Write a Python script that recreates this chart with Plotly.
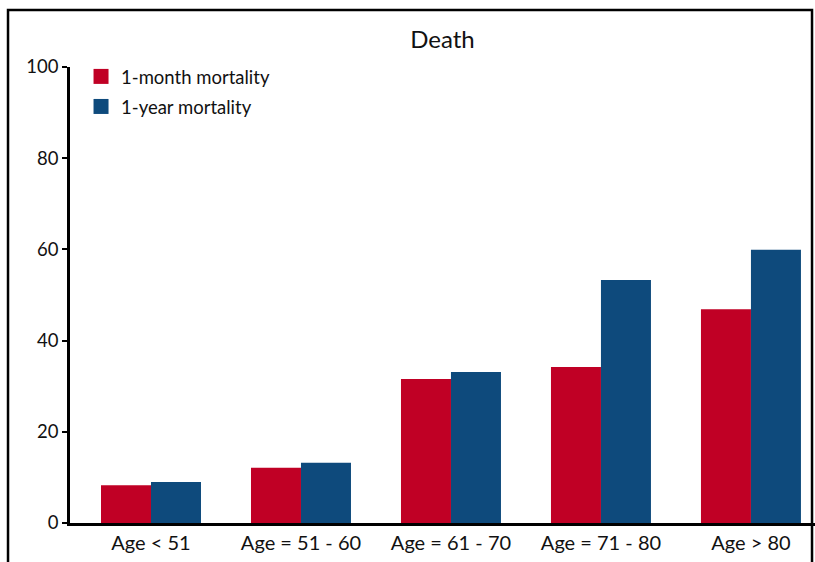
import plotly.graph_objects as go

categories = ["Age < 51", "Age = 51 - 60", "Age = 61 - 70", "Age = 71 - 80", "Age > 80"]
one_month = [8.3, 12.1, 31.6, 34.2, 46.9]
one_year = [9.0, 13.2, 33.1, 53.3, 59.9]
y_ticks = [0, 20, 40, 60, 80, 100]
series_names = ["1-month mortality", "1-year mortality"]

RED = "#C00025"
BLUE = "#0E4A7C"
FONT = "Lato, 'Open Sans', sans-serif"

fig = go.Figure()
for vals, name, color in [(one_month, series_names[0], RED), (one_year, series_names[1], BLUE)]:
    fig.add_trace(go.Bar(x=categories, y=vals, name=name, showlegend=False,
                         marker=dict(color=color, line=dict(width=0))))

# legend entries with larger square swatches
for i, (name, color) in enumerate([(series_names[0], RED), (series_names[1], BLUE)]):
    fig.add_trace(go.Scatter(x=[None], y=[None], mode="markers", name=name,
                             legendgroup=f"g{i}",
                             marker=dict(symbol="square", size=15, color=color,
                                         line=dict(width=0))))

fig.update_layout(
    width=815, height=562,
    margin=dict(l=70, r=0, t=67, b=39),
    paper_bgcolor="white", plot_bgcolor="white",
    barmode="group", bargap=1/3, bargroupgap=0,
    font=dict(family=FONT, color="#111111", size=19),
    title=dict(text="Death", x=0.5, xanchor="center", xref="paper",
               y=1 - 40 / 562, yref="container", yanchor="middle",
               font=dict(size=24, family=FONT, color="#111111")),
    showlegend=True,
    legend=dict(x=0.0148, y=1.02, xanchor="left", yanchor="top",
                font=dict(size=18.5, family=FONT, color="#111111"),
                bgcolor="rgba(0,0,0,0)", traceorder="grouped",
                itemwidth=30, tracegroupgap=3),
    xaxis=dict(range=[-0.54, 4.427], showline=True, linecolor="black", linewidth=3,
               ticks="", showgrid=False, zeroline=False,
               tickfont=dict(size=20, family=FONT, color="#111111")),
    yaxis=dict(range=[0, 100], tickvals=y_ticks, showline=True, linecolor="black",
               linewidth=2.5, ticks="outside", ticklen=5, tickwidth=1.5, tickcolor="black",
               showgrid=False, zeroline=False,
               tickfont=dict(size=18.5, family=FONT, color="#111111")),
    shapes=[dict(type="rect", xref="paper", yref="paper",
                 x0=-0.0832, x1=0.996, y0=-0.3, y1=1.125,
                 line=dict(color="black", width=2.5), fillcolor="rgba(0,0,0,0)",
                 layer="below")],
)

fig.write_html("out.html")
